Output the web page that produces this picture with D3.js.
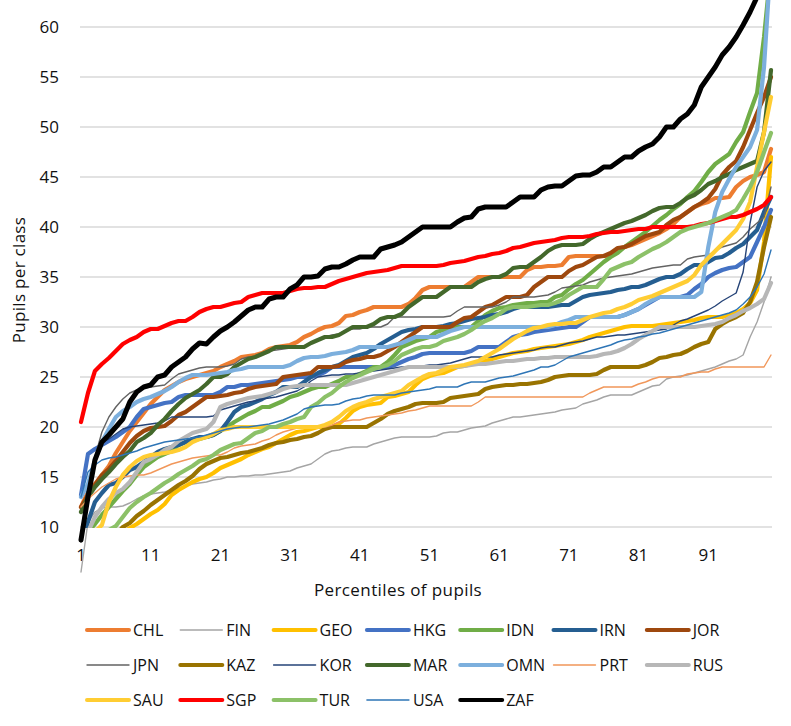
<!DOCTYPE html>
<html>
<head>
<meta charset="utf-8">
<script src="https://cdn.jsdelivr.net/npm/d3@7"></script>
<style>
  body { margin: 0; background: #fff; }
  text { font-family: "Open Sans", "DejaVu Sans", sans-serif; fill: #111; }
</style>
</head>
<body>
<div id="visualization"></div>
<script>
// percentile categories and axis ticks
const percentiles = d3.range(1, 101);
const xTicks = [1, 11, 21, 31, 41, 51, 61, 71, 81, 91];
const yTicks = [10, 15, 20, 25, 30, 35, 40, 45, 50, 55, 60];

// pupils per class at each percentile
const CHL = [12,13.5,14.3,15.2,16.1,17.4,18.5,19.6,20.5,21.4, 22.3,23,23.7,24.1,24.5,24.8,25,25.2,25.4,25.6, 26,26.3,26.6,27,27.1,27.2,27.4,27.8,28,28.1, 28.2,28.5,29,29.3,29.7,30,30.1,30.4,31.1,31.2, 31.5,31.7,32,32,32,32,32,32.3,32.9,33.7, 34,34,34,34,34,34,34.5,35,35,35, 35,35,35,35,35.7,36,36,36.1,36.1,36.2, 37,37.1,37.1,37.1,37.1,37.1,37.1,37.8,38,38.2, 38.5,38.8,39.1,39.4,39.8,40.3,41,41.5,42,42.3, 42.5,42.9,42.9,43,44,44.6,45,45.2,45.5,47.8];
const FIN = [5.5,10.5,11.5,11.9,12,12,12.1,12.4,12.8,13.1, 13.3,13.4,13.5,13.7,13.9,14.1,14.3,14.4,14.5,14.7, 14.8,15,15,15.1,15.1,15.2,15.2,15.3,15.4,15.5, 15.6,15.9,16.1,16.3,16.8,17.3,17.6,17.7,17.9,18, 18,18,18.3,18.5,18.7,18.9,19,19,19,19, 19,19.1,19.4,19.5,19.5,19.7,19.9,20,20.1,20.4, 20.6,20.8,21,21,21.1,21.2,21.3,21.4,21.5,21.7, 21.8,21.9,22.3,22.5,22.7,23,23.2,23.2,23.2,23.2, 23.5,23.8,24.1,24.2,24.8,25,25.1,25.2,25.4,25.6, 25.8,26,26.3,26.6,26.8,27.2,29,30.5,32.5,35];
const GEO = [6,6.6,7.2,7.8,8.4,8.9,9.4,9.9,10.3,10.8, 11.3,11.7,12.3,13.2,13.7,14.1,14.5,14.8,15,15.4, 15.9,16.2,16.5,16.8,17.2,17.5,17.8,18,18.4,18.8, 19.2,19.5,19.6,19.8,20,20,20,20.3,20.9,21.6, 22,22.2,22.3,22.4,23,23.1,23.3,23.5,24.2,24.8, 25.1,25.3,25.4,25.7,26,26.1,26.3,26.4,26.6,26.8, 27,27.2,27.4,27.5,27.6,27.8,27.9,28,28.1,28.2, 28.3,28.5,28.7,29,29.2,29.4,29.6,29.8,30,30.1, 30.1,30.1,30.1,30.2,30.3,30.4,30.5,30.6,30.7,30.9, 31,31,31,31.2,31.4,31.8,32.4,33.7,38.5,47];
const HKG = [13.2,17.3,17.8,18.2,18.6,19,19.5,20,21,21.8, 22,22.2,22.4,22.5,23,23.2,23.2,23.2,23.2,23.2, 23.5,24,24,24.2,24.2,24.3,24.4,24.5,24.6,24.7, 24.8,25,25,25,25.2,25.5,26,26,26,26, 26,26,26,26,26,26.2,26.5,26.8,27,27.3, 27.4,27.4,27.4,27.4,27.4,27.4,27.6,28,28,28, 28,28.5,29,29.2,29.3,29.5,29.6,29.7,29.8,29.9, 30,30,30.5,31,31,31,31,31,31.2,31.5, 31.8,32.2,32.6,33,33,33,33,33.2,33.8,34.3, 35,35.4,35.7,35.9,36,36.5,37,38.5,40,41.7];
const IDN = [8.5,9.5,10.3,11.2,12,12.8,13.6,14.3,15.2,16, 16.5,17,17.3,17.6,18.2,18.5,18.7,18.8,19,19.2, 19.6,20,20.5,20.9,21.3,21.6,22,22,22.3,22.6, 23,23.2,23.5,23.8,24,24,24.3,24.6,25,25, 25.3,25.6,26,26,26.5,27.2,28,28.3,28.6,28.8, 29,29.5,29.7,30,30,30,30,30.6,31.2,31.6, 31.9,32,32.2,32.3,32.4,32.4,32.5,32.5,33,33.2, 33.8,34.3,34.7,35.3,35.9,36.5,37,37.4,38,38.5, 39,39.5,40.1,40.7,41.2,41.8,42.3,43,43.6,44.5, 45.5,46.3,46.8,47.3,48.5,49.5,51.5,53.4,59,66];
const IRN = [8,10.5,12.5,13.4,14.2,14.4,15,15.7,16,16.5, 17,17.5,17.8,18,18.2,18.5,18.8,19,19,19.2, 19.6,20.5,21.5,22,22.2,22.5,22.8,23.2,23.5,24, 24,24,24.5,25,25.4,25.7,26,26.2,26.6,27, 27.2,27.4,27.8,28.3,28.7,29.1,29.5,29.7,29.8,30, 30,30,30.1,30.3,30.4,30.6,30.8,30.9,31,31.2, 31.3,31.5,31.8,32,32,32,32,32,32.1,32.2, 32.2,32.6,33,33.2,33.3,33.4,33.5,33.7,33.8,34, 34,34.2,34.5,34.8,35,35,35.3,35.8,36.2,36.2, 36.5,36.9,37,37.4,37.9,38.3,39,39.7,41.5,43];
const JOR = [12,13.2,14.2,15.2,15.8,16.6,17.5,18.4,19.1,19.6, 19.9,20,20.1,20.6,21.2,21.5,22,22.5,23,23, 23.1,23.2,23.4,23.5,23.8,24,24.1,24.2,24.3,25, 25.1,25.2,25.3,25.4,26,26,26,26.1,26.5,26.7, 26.8,27,27,27.2,27.6,28,28.5,29,29.5,30, 30,30,30,30,30.5,30.9,31,31.5,32,32.2, 32.6,33,33,33,33.2,34,34.5,35,35,35, 35.6,36,36.2,36.6,37,37.1,37.4,37.9,38,38.3, 38.7,39.1,39.3,39.5,40.2,40.7,41,41.5,42,42.4, 42.9,43.8,45.2,46,46.6,48,49.7,51.4,53,55];
const JPN = [8.5,13,17,19.5,21,22,22.8,23.4,23.7,23.9, 24,24.1,24.2,24.8,25.3,25.5,25.7,25.9,26,26, 26,26.1,26.3,26.8,27,27,27.2,27.6,27.7,27.8, 27.9,28,28,28.3,28.8,29,29.2,29.3,29.7,29.8, 29.8,30,30,30,30.3,31,31,31,31,31, 31,31,31,31.1,31.6,32,32,32,32,32, 32.2,32.5,33,33,33,33,33.1,33.2,33.5,33.9, 34,34.1,34.2,34.5,34.7,34.9,35,35.1,35.2,35.3, 35.5,35.7,35.9,36,36.1,36.2,36.2,36.8,37,37.1, 37.2,37.6,38,38.2,38.4,39,39.8,40.4,41,44];
const KAZ = [5.5,6.2,7,7.7,8.4,9.2,10,10.4,11.1,11.6, 12.2,12.7,13.2,13.7,14.2,14.6,15.1,15.8,16.3,16.6, 16.9,17,17.2,17.4,17.5,17.7,17.9,18.2,18.4,18.5, 18.7,18.8,19,19.1,19.4,19.8,20,20,20,20, 20,20,20.4,20.8,21.3,21.6,21.8,22,22.3,22.4, 22.4,22.4,22.5,22.9,23,23.1,23.2,23.3,23.8,24, 24.1,24.2,24.2,24.3,24.3,24.4,24.5,24.7,25,25.1, 25.2,25.2,25.2,25.2,25.3,25.7,26,26,26,26, 26,26.2,26.5,26.9,27,27.2,27.3,27.6,28,28.3, 28.5,29.8,30.3,30.7,31,31.4,32.5,34.5,38,41];
const KOR = [9,14.5,17,18.5,18.8,19.3,19.8,20,20.1,20.2, 20.3,20.4,20.6,21,21,21,21,21,21,21.1, 21.7,21.9,22.1,22.3,22.5,22.6,22.8,22.9,23,23.2, 23.4,23.6,24,24.6,25,25.1,25.2,25.2,25.3,25.3, 25.4,25.5,25.6,25.7,25.8,25.9,26,26,26,26.1, 26.2,26.2,26.3,26.4,26.6,26.8,27,27,27,27, 27.2,27.3,27.4,27.5,27.6,27.7,27.9,28,28,28.2, 28.4,28.5,28.6,28.8,29,29,29.1,29.2,29.2,29.3, 29.4,29.5,29.6,29.7,29.8,30.2,30.6,30.8,31.1,31.4, 31.7,32.1,32.6,33,33.4,35.5,40.4,44,45.6,46.5];
const MAR = [11.5,13,14,14.8,15.5,16.3,17,17.6,18.5,18.9, 19.4,20.2,20.8,21.6,22.3,22.9,23.3,23.7,24.3,25, 25,25.3,26,26.4,26.8,27,27.3,27.6,28,28, 28,28,28,28.4,28.7,29,29,29.2,29.6,30, 30,30,30.3,30.8,31,31,31.3,32,32.5,33, 33,33,33.5,34,34,34,34,34.5,34.8,35, 35,35.3,35.9,36,36,36.5,37,37.6,38,38.2, 38.2,38.2,38.3,38.8,39.2,39.5,39.8,40.1,40.4,40.6, 40.9,41.2,41.6,41.9,42,42,42.4,42.9,43.2,43.7, 44.3,44.6,45,45.3,45.7,46,46.3,46.6,49.5,55.7];
const OMN = [13,14.3,16.7,18.5,19.8,21,21.6,22,22.5,22.8, 23,23.3,23.6,24,24.5,24.9,25.2,25.2,25.2,25.3, 25.4,25.5,25.7,25.8,26,26,26,26,26,26, 26.2,26.6,26.9,27,27,27.1,27.3,27.4,27.5,27.7, 28,28,28,28,28,28.2,28.4,28.7,29,29, 29,29,29.3,29.6,29.8,30,30,30,30,30, 30,30,30,30,30,30,30,30,30.2,30.5, 30.7,31,31,31,31,31,31,31,31.2,31.5, 31.8,32.3,32.7,33,33,33,33,33,33,33.5, 38,41.5,43.5,44.8,46,47,48,49.7,56,67];
const PRT = [12,12.8,13.4,14,14.4,14.8,15,15.1,15.2,15.2, 15.4,15.7,16,16.3,16.5,16.7,16.9,17,17.1,17.2, 17.2,17.5,17.9,18.1,18.2,18.3,18.6,18.8,19.2,19.5, 19.7,19.9,20,20,20,20,20.2,20.5,20.6,20.7, 20.7,20.9,21,21.1,21.2,21.3,21.4,21.6,21.7,21.9, 22.1,22.1,22.1,22.1,22.1,22.1,22.1,22.5,23,23, 23,23,23,23,23,23,23,23,23,23, 23,23,23,23.4,23.7,24,24,24,24,24, 24.3,24.5,24.8,25,25,25,25,25.3,25.4,25.5, 25.5,25.8,26,26,26,26,26,26,26,27.2];
const RUS = [8,9.5,11,12,12.8,13.4,13.8,14.5,15.5,16.5, 16.8,17.2,17.7,18,18.6,19,19.4,19.6,19.8,20.5, 22,22.3,22.5,22.7,22.9,23,23.1,23.3,23.5,23.8, 24,24.1,24.2,24.2,24.2,24.2,24.2,24.2,24.2,24.4, 24.6,24.8,25,25.2,25.4,25.6,25.8,26,26,26, 26,26,26,26,26,26.1,26.2,26.3,26.3,26.4, 26.5,26.6,26.6,26.7,26.8,26.8,26.9,26.9,27,27, 27,27,27,27,27.1,27.3,27.4,27.6,27.9,28.3, 28.8,29.2,29.6,30,30,30,30,30,30,30.1, 30.2,30.3,30.5,30.9,31.2,31.6,31.9,32.3,32.8,34.4];
const SAU = [8,8.8,9.5,10.2,12.5,14,15.2,16,16.6,17, 17.2,17.3,17.4,17.5,17.7,18,18.5,18.8,19,19.3, 19.7,19.8,20,20,20,20,20,20,20,20, 20,20,20,20,20,20.2,20.5,21,21.6,22, 22.3,22.5,22.8,23,23.2,23.4,23.6,24.2,24.6,25, 25.3,25.4,25.7,26,26.1,26.2,26.4,26.6,27,27.4, 27.8,28.3,28.8,29.2,29.6,29.9,30,30.2,30.3,30.3, 30.4,30.4,30.7,31,31.2,31.4,31.5,31.8,32,32.3, 32.7,32.9,33.1,33.4,33.7,34,34.3,34.6,35.2,36.2, 36.9,37.6,38.3,39,39.7,40.8,42.5,46,49.5,53];
const SGP = [20.5,23.4,25.6,26.3,26.9,27.6,28.3,28.7,29,29.5, 29.8,29.8,30.1,30.4,30.6,30.6,31,31.5,31.8,32, 32,32.2,32.4,32.5,33,33.2,33.4,33.4,33.4,33.4, 33.6,33.8,33.9,33.9,34,34,34.3,34.6,34.8,35, 35.2,35.4,35.5,35.6,35.7,35.9,36.1,36.1,36.1,36.1, 36.1,36.1,36.2,36.4,36.5,36.6,36.8,37,37.1,37.3, 37.4,37.6,37.9,38,38.2,38.4,38.5,38.6,38.7,38.9, 39,39,39,39.1,39.3,39.4,39.5,39.5,39.6,39.7, 39.8,39.8,40,40,40,40,40,40,40.1,40.3, 40.4,40.6,40.8,41,41,41.2,41.5,41.8,42.2,43];
const TUR = [7,7.8,8.6,9.2,9.7,10.1,11,11.9,12.5,13, 13.4,13.9,14.4,14.8,15.3,15.7,16.1,16.6,16.8,17.2, 17.7,18,18.3,18.4,18.9,19.4,19.6,20,20,20.3, 20.5,20.8,21,22,22.4,23,23.4,24,24.5,24.9, 25.2,25.5,25.8,26,26.2,26.6,27.2,27.5,27.8,28, 28,28.2,28.6,28.8,29,29.3,29.7,30.2,30.6,30.9, 31.3,31.8,32,32,32,32.1,32.2,32.2,32.4,32.7, 33.2,33.6,34,34,34,34.8,35.7,36,36.3,36.5, 37,37.4,37.8,38.1,38.5,39,39.5,39.8,40,40.2, 40.4,40.7,41,41.3,41.7,42.8,44,45.5,47.5,49.4];
const USA = [13,15.5,16.2,16.7,16.9,17,17.2,17.4,17.6,17.9, 18.1,18.3,18.5,18.6,18.7,18.8,18.9,19,19.2,19.4, 19.6,19.8,19.9,20,20,20.1,20.2,20.3,20.5,20.7, 21,21.3,21.8,22,22.1,22.2,22.2,22.3,22.6,22.8, 22.9,23.1,23.2,23.2,23.2,23.2,23.4,23.5,23.6,23.7, 23.8,24,24,24,24,24.3,24.5,24.5,24.5,24.7, 24.9,25,25.1,25.3,25.5,25.7,26,26,26.2,26.6, 27,27.2,27.4,27.6,27.8,28,28.2,28.5,28.7,28.8, 29,29.1,29.3,29.4,29.6,29.8,30,30.2,30.4,30.6, 30.8,31,31.2,31.4,31.7,32.3,33,34,35.3,37.7];
const ZAF = [8.7,13,16.7,18.5,19.2,20,20.8,22.5,23.5,24, 24.2,25,25.2,26,26.5,27,27.8,28.4,28.3,29, 29.6,30,30.5,31.1,31.7,32,32,32.8,33,33, 33.8,34.2,35,35,35.1,35.8,36,36,36.3,36.7, 37,37,37,37.8,38,38.2,38.5,39,39.5,40, 40,40,40,40,40.5,40.9,41,41.8,42,42, 42,42,42.5,43,43,43,43.7,44,44.1,44.1, 44.6,45.1,45.2,45.2,45.5,46,46,46.5,47,47, 47.6,48,48.3,49,50,50,50.8,51.3,52.2,54, 55,56,57.2,58,59,60.2,61.5,63,65,70];

const countries = ["CHL","FIN","GEO","HKG","IDN","IRN","JOR","JPN","KAZ","KOR","MAR","OMN","PRT","RUS","SAU","SGP","TUR","USA","ZAF"];
const seriesValues = [CHL, FIN, GEO, HKG, IDN, IRN, JOR, JPN, KAZ, KOR, MAR, OMN, PRT, RUS, SAU, SGP, TUR, USA, ZAF];
const colors = ["#ED7D31","#A5A5A5","#FFC000","#4472C4","#70AD47","#255E91","#9E480E","#636363","#997300","#264478","#43682B","#7CAFDD","#F1975A","#B7B7B7","#FFCD33","#FF0000","#8CC168","#2E75B6","#000000"];
const thin = ["FIN","JPN","KOR","PRT","USA"];

const width = 791, height = 726;

const svg = d3.select("#visualization")
    .append("svg")
        .attr("width", width)
        .attr("height", height);

const x = d3.scaleLinear().domain([1, 100]).range([81, 771]);
const y = d3.scaleLinear().domain([10, 60]).range([527, 27]);

// thick lines stop at the bottom of the plot area
svg.append("defs")
    .append("clipPath")
        .attr("id", "plotClip")
    .append("rect")
        .attr("x", 0)
        .attr("y", 0)
        .attr("width", width)
        .attr("height", y(10) + 1);

// horizontal gridlines
svg.append("g")
    .selectAll("line")
    .data(yTicks)
    .join("line")
        .attr("x1", x(1) - 1)
        .attr("x2", x(100) + 1)
        .attr("y1", d => y(d))
        .attr("y2", d => y(d))
        .attr("stroke", "#d9d9d9")
        .attr("stroke-width", 1.3);

// y axis labels
svg.append("g")
    .selectAll("text")
    .data(yTicks)
    .join("text")
        .attr("x", 59)
        .attr("y", d => y(d) + 6)
        .attr("text-anchor", "end")
        .style("font-size", "17px")
        .text(d => d);

// x axis labels
svg.append("g")
    .selectAll("text")
    .data(xTicks)
    .join("text")
        .attr("x", d => x(d))
        .attr("y", 561)
        .attr("text-anchor", "middle")
        .style("font-size", "17px")
        .text(d => d);

svg.append("text")
    .attr("x", 398)
    .attr("y", 596)
    .attr("text-anchor", "middle")
    .style("font-size", "17px")
    .style("letter-spacing", "0.4px")
    .text("Percentiles of pupils");

svg.append("text")
    .attr("transform", "translate(25, 280) rotate(-90)")
    .attr("text-anchor", "middle")
    .style("font-size", "17px")
    .style("letter-spacing", "0.3px")
    .text("Pupils per class");

// series lines, drawn in legend order so ZAF ends up on top
const line = d3.line()
    .x((d, i) => x(percentiles[i]))
    .y(d => y(d));

function strokeFor(name) {
    if (name === "ZAF") return 5;
    return thin.includes(name) ? 1.4 : 4.2;
}

svg.append("g")
    .selectAll("path")
    .data(countries)
    .join("path")
        .attr("d", (d, i) => line(seriesValues[i]))
        .attr("clip-path", d => (thin.includes(d) || d === "ZAF") ? null : "url(#plotClip)")
        .attr("fill", "none")
        .attr("stroke", (d, i) => colors[i])
        .attr("stroke-width", d => strokeFor(d))
        .attr("stroke-linejoin", "round")
        .attr("stroke-linecap", "round");

// legend: 7 per row
const legend = svg.append("g")
    .selectAll("g")
    .data(countries)
    .join("g")
        .attr("transform", (d, i) => `translate(${87 + (i % 7) * 93.3}, ${630 + Math.floor(i / 7) * 35})`);

legend.append("line")
    .attr("x1", 0)
    .attr("x2", 42)
    .attr("stroke", (d, i) => colors[i])
    .attr("stroke-width", d => thin.includes(d) ? 1.4 : 4)
    .attr("stroke-linecap", "round");

legend.append("text")
    .attr("x", 46)
    .attr("y", 6)
    .style("font-size", "16px")
    .text(d => d);
</script>
</body>
</html>
